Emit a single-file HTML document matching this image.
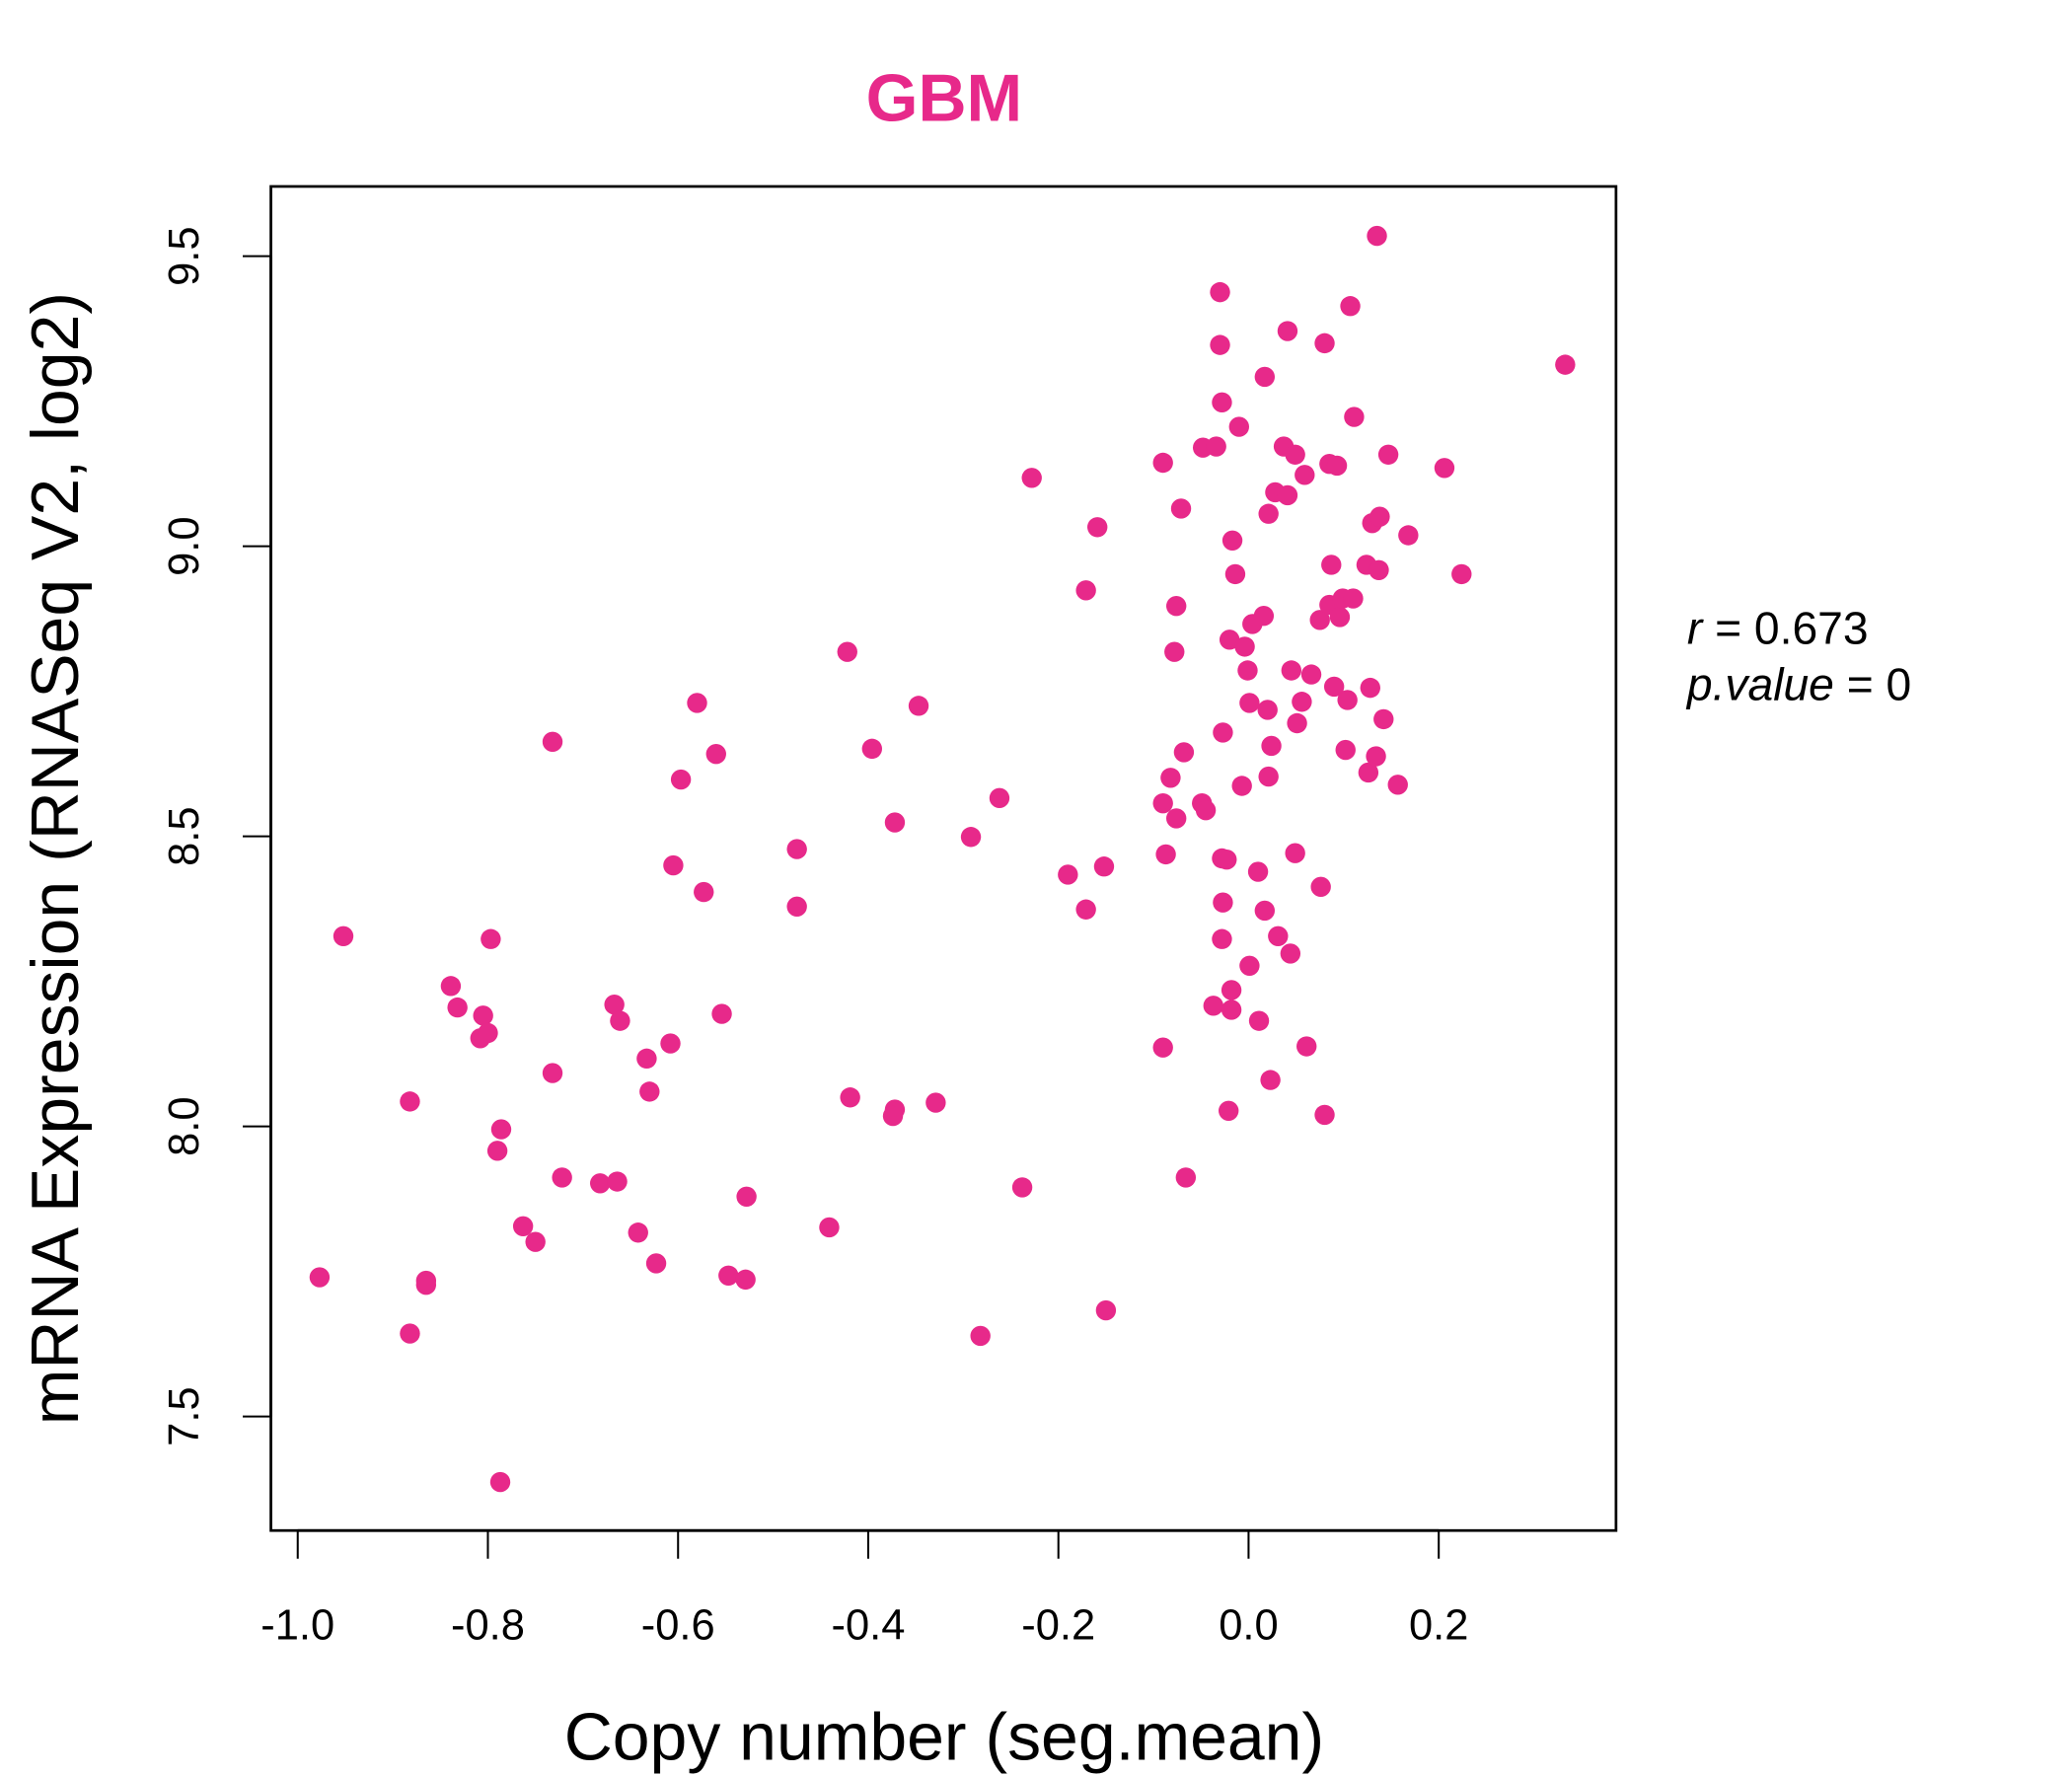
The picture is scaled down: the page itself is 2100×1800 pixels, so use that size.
<!DOCTYPE html>
<html><head><meta charset="utf-8"><style>
html,body{margin:0;padding:0;background:#fff;}
svg{display:block;font-family:"Liberation Sans",sans-serif;}
</style></head><body>
<svg id="chart" width="2100" height="1800" viewBox="0 0 1545 1324" preserveAspectRatio="none" xmlns="http://www.w3.org/2000/svg">
<rect width="1545" height="1324" fill="#fff"/>
<text x="704" y="90" text-anchor="middle" font-size="50" font-weight="bold" fill="#e7298a">GBM</text>
<rect x="202" y="139" width="1003" height="1002" fill="none" stroke="#000" stroke-width="2"/>
<g id="xaxis"></g>
<g id="yaxis"></g>
<g id="points"></g>
<text x="704" y="1312" text-anchor="middle" font-size="50">Copy number (seg.mean)</text>
<text transform="translate(58,640) rotate(-90)" text-anchor="middle" font-size="50">mRNA Expression (RNASeq V2, log2)</text>
<text x="1258" y="480" font-size="34"><tspan font-style="italic">r</tspan> = 0.673</text>
<text x="1258" y="522" font-size="34"><tspan font-style="italic">p.value</tspan> = 0</text>
</svg>
<script>
const xTicks=[-1.0,-0.8,-0.6,-0.4,-0.2,0.0,0.2];
const xTickLabels=["-1.0","-0.8","-0.6","-0.4","-0.2","0.0","0.2"];
const yTicks=[7.5,8.0,8.5,9.0,9.5];
const yTickLabels=["7.5","8.0","8.5","9.0","9.5"];
const xValues=[-0.977,-0.952,-0.882,-0.882,-0.865,-0.865,-0.839,-0.832,-0.808,-0.805,-0.800,-0.797,-0.790,-0.786,-0.787,-0.763,-0.750,-0.732,-0.732,-0.722,-0.682,-0.667,-0.664,-0.661,-0.642,-0.633,-0.630,-0.623,-0.608,-0.605,-0.597,-0.580,-0.573,-0.560,-0.554,-0.547,-0.529,-0.528,-0.475,-0.475,-0.441,-0.422,-0.419,-0.396,-0.372,-0.372,-0.374,-0.347,-0.329,-0.292,-0.282,-0.262,-0.238,-0.228,-0.190,-0.171,-0.171,-0.159,-0.152,-0.150,-0.090,-0.090,-0.090,-0.087,-0.082,-0.076,-0.078,-0.076,-0.071,-0.068,-0.066,-0.048,-0.049,-0.045,-0.037,-0.034,-0.030,-0.030,-0.028,-0.028,-0.028,-0.027,-0.027,-0.023,-0.021,-0.020,-0.018,-0.017,-0.018,-0.014,-0.010,-0.007,-0.004,-0.001,0.001,0.001,0.004,0.010,0.011,0.016,0.017,0.017,0.020,0.021,0.021,0.023,0.024,0.028,0.031,0.037,0.041,0.041,0.044,0.045,0.049,0.049,0.051,0.056,0.059,0.061,0.066,0.075,0.076,0.080,0.080,0.085,0.085,0.087,0.090,0.093,0.096,0.099,0.102,0.104,0.107,0.110,0.111,0.124,0.126,0.128,0.130,0.134,0.135,0.137,0.138,0.142,0.147,0.157,0.168,0.206,0.224,0.333];
const yValues=[7.740,8.328,8.043,7.643,7.734,7.727,8.242,8.205,8.152,8.191,8.161,8.323,7.958,7.995,7.387,7.828,7.801,8.663,8.092,7.912,7.902,8.210,7.905,8.182,7.817,8.117,8.060,7.764,8.143,8.450,8.598,8.730,8.404,8.642,8.194,7.743,7.736,7.879,8.478,8.379,7.826,8.818,8.050,8.651,8.524,8.029,8.018,8.725,8.041,8.499,7.639,8.566,7.895,9.118,8.434,8.924,8.374,9.033,8.448,7.683,9.144,8.557,8.136,8.469,8.601,8.531,8.818,8.897,9.065,8.645,7.912,9.170,8.557,8.545,8.208,9.172,9.438,9.347,9.248,8.462,8.323,8.679,8.386,8.460,8.027,8.839,8.201,9.010,8.235,8.952,9.206,8.587,8.827,8.786,8.730,8.277,8.866,8.439,8.182,8.880,8.372,9.292,8.718,8.603,9.056,8.080,8.656,9.093,8.328,9.172,9.088,9.371,8.298,8.786,9.158,8.471,8.695,8.732,9.123,8.138,8.779,8.873,8.413,9.350,8.020,9.142,8.899,8.968,8.758,9.139,8.878,8.910,8.649,8.735,9.414,8.910,9.223,8.968,8.610,8.756,9.040,8.638,9.535,8.959,9.051,8.702,9.158,8.589,9.019,9.135,8.952,9.313];
const NS="http://www.w3.org/2000/svg";
function sx(v){return 931+v*709;}
function sy(v){return 1056-(v-7.5)*432.5;}
function mk(tag,attrs,parent){const e=document.createElementNS(NS,tag);for(const k in attrs)e.setAttribute(k,attrs[k]);parent.appendChild(e);return e;}
const xa=document.getElementById('xaxis');
mk('line',{x1:sx(xTicks[0]),x2:sx(xTicks[xTicks.length-1]),y1:1141,y2:1141,stroke:'#000','stroke-width':2},xa);
xTicks.forEach((t,i)=>{
 const l=mk('line',{x1:sx(t),x2:sx(t),y1:1141,y2:1162,stroke:'#000','stroke-width':1.5},xa);
 
 
 const tx=mk('text',{x:sx(t),y:1222,'text-anchor':'middle','font-size':32},xa);
 tx.textContent=xTickLabels[i];
 
 
});
const ya=document.getElementById('yaxis');
mk('line',{x1:202,x2:202,y1:sy(yTicks[0]),y2:sy(yTicks[yTicks.length-1]),stroke:'#000','stroke-width':2},ya);
yTicks.forEach((t,i)=>{
 const l=mk('line',{x1:181,x2:202,y1:sy(t),y2:sy(t),stroke:'#000','stroke-width':1.5},ya);
 
 
 const tx=mk('text',{transform:'translate(148,'+sy(t)+') rotate(-90)','text-anchor':'middle','font-size':32},ya);
 tx.textContent=yTickLabels[i];
 
 
});
const pg=document.getElementById('points');
xValues.forEach((x,i)=>{
 const c=mk('circle',{cx:sx(x),cy:sy(yValues[i]),r:7.5,fill:'#e7298a'},pg);
 
 
});
</script>
</body></html>
